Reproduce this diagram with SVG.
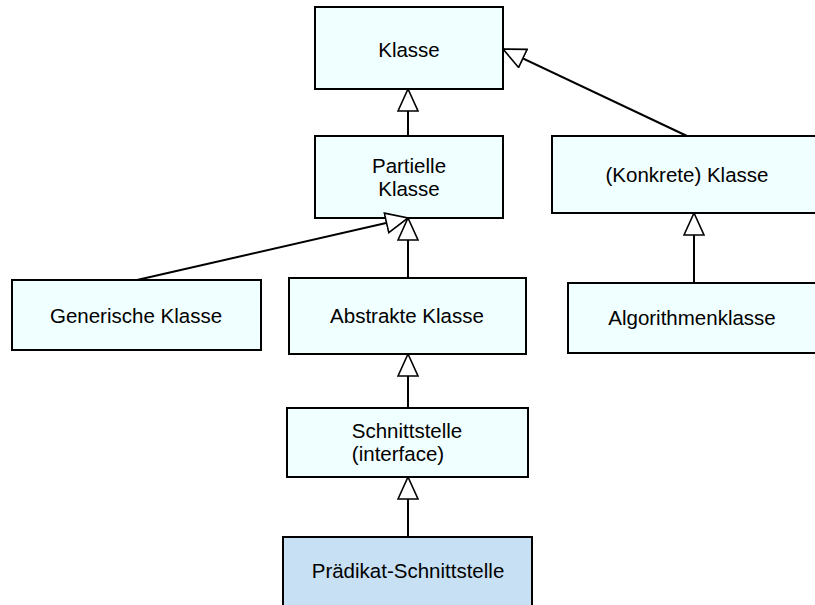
<svg xmlns="http://www.w3.org/2000/svg" width="815" height="605" viewBox="0 0 815 605">
<style>
.box{fill:#f0ffff;stroke:#000;stroke-width:2}
.box2{fill:#c8e0f4;stroke:#000;stroke-width:2}
.lbl{font-family:"Liberation Sans",Arial,sans-serif;font-size:20.5px;fill:#000;text-anchor:middle}
.con{stroke:#000;stroke-width:2;fill:none;marker-end:url(#tri)}
</style>
<defs>
<marker id="tri" viewBox="-1 -1 24 22" refX="22" refY="10" markerWidth="24" markerHeight="22" markerUnits="userSpaceOnUse" orient="auto">
<path d="M0,0 L22,10 L0,20 Z" fill="#fff" stroke="#000" stroke-width="1.6"/>
</marker>
</defs>
<rect width="815" height="605" fill="#fff"/>
<g id="n-klasse"><rect class="box" x="315" y="7" width="188" height="82"/><text class="lbl" x="409" y="57">Klasse</text></g>
<g id="n-partielle"><rect class="box" x="315" y="136" width="188" height="82"/><text class="lbl" x="409" y="173">Partielle</text><text class="lbl" x="409" y="196">Klasse</text></g>
<g id="n-konkrete"><rect class="box" x="552" y="136" width="272" height="77"/><text class="lbl" x="687" y="182">(Konkrete) Klasse</text></g>
<g id="n-generisch"><rect class="box" x="12" y="280" width="249" height="70"/><text class="lbl" x="136" y="323">Generische Klasse</text></g>
<g id="n-abstrakt"><rect class="box" x="289" y="278" width="237" height="76"/><text class="lbl" x="407" y="323">Abstrakte Klasse</text></g>
<g id="n-algorithmen"><rect class="box" x="568" y="283" width="256" height="70"/><text class="lbl" x="692" y="325">Algorithmenklasse</text></g>
<g id="n-schnittstelle"><rect class="box" x="287" y="408" width="241" height="69"/><text class="lbl" x="407" y="438">Schnittstelle</text><text class="lbl" x="398" y="461">(interface)</text></g>
<g id="n-praedikat"><rect class="box2" x="283" y="537" width="249" height="80"/><text class="lbl" x="408" y="578">Prädikat-Schnittstelle</text></g>
<g id="connectors">
<line class="con" x1="408" y1="136" x2="408" y2="89"/>
<line class="con" x1="687" y1="136" x2="503" y2="49"/>
<line class="con" x1="137" y1="280" x2="408" y2="218"/>
<line class="con" x1="408" y1="278" x2="408" y2="218"/>
<line class="con" x1="694" y1="283" x2="694" y2="213"/>
<line class="con" x1="408" y1="408" x2="408" y2="354"/>
<line class="con" x1="408" y1="537" x2="408" y2="477"/>
</g>
</svg>
